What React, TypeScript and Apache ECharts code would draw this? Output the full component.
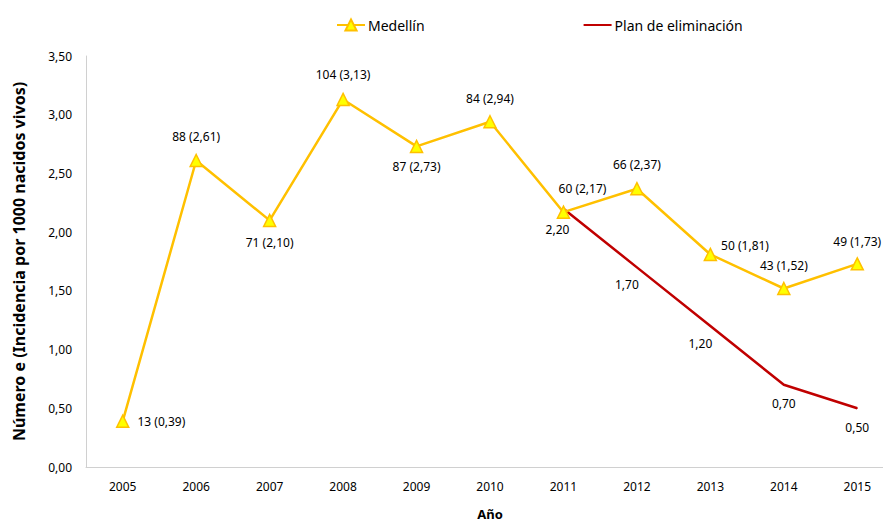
import React, { useEffect, useRef } from "react";
import * as echarts from "echarts";

const years = ["2005", "2006", "2007", "2008", "2009", "2010", "2011", "2012", "2013", "2014", "2015"];
const cases = [13, 88, 71, 104, 87, 84, 60, 66, 50, 43, 49];
const incidence = [0.39, 2.61, 2.10, 3.13, 2.73, 2.94, 2.17, 2.37, 1.81, 1.52, 1.73];
const plan = [null, null, null, null, null, null, 2.20, 1.70, 1.20, 0.70, 0.50];

const comma = (v: number) => v.toFixed(2).replace(".", ",");
const FONT = "Noto Sans";

const medLabel: any[] = [
  { position: "right", distance: 8 },
  { position: "top", distance: 11 },
  { position: "bottom", distance: 9 },
  { position: "top", distance: 12 },
  { position: "bottom", distance: 7 },
  { position: "top", distance: 11 },
  { position: "top", distance: 11, offset: [19, 0] },
  { position: "top", distance: 11 },
  { position: "right", distance: 4, offset: [0, -9] },
  { position: "top", distance: 10 },
  { position: "top", distance: 10 },
];
const planLabel: any[] = [
  null, null, null, null, null, null,
  { position: "bottom", distance: 14, offset: [-6, 0] },
  { position: "bottom", distance: 11, offset: [-10, 0] },
  { position: "bottom", distance: 11, offset: [-10, 0] },
  { position: "bottom", distance: 12 },
  { position: "bottom", distance: 13 },
];

export default function App() {
  const ref = useRef<HTMLDivElement>(null);
  useEffect(() => {
    document.body.style.margin = "0";
    const chart = echarts.init(ref.current!, null, { renderer: "svg" });
    const medData = incidence.map((v, i) => ({ value: v, label: medLabel[i] }));
    const planData = plan.map((v, i) => (v === null ? null : { value: v, label: planLabel[i] }));
    chart.setOption({
      animation: false,
      textStyle: { fontFamily: FONT },
      legend: {
        top: 13,
        left: 331,
        itemGap: 158,
        itemWidth: 28,
        itemHeight: 14,
        textStyle: { fontFamily: FONT, fontSize: 14, color: "#000", padding: [0, 0, 0, -2] },
        data: [
          { name: "Medellín" },
          { name: "Plan de eliminación", itemStyle: { opacity: 0 } },
        ],
      },
      grid: { left: 86, width: 808, top: 56, bottom: 55, containLabel: false, outerBoundsMode: "none" },
      xAxis: {
        type: "category",
        data: years,
        boundaryGap: true,
        name: "Año",
        nameLocation: "middle",
        nameGap: 40,
        nameTextStyle: { fontFamily: FONT, fontWeight: "bold", fontSize: 13, color: "#000" },
        axisLine: { lineStyle: { color: "#D0D0D0" } },
        axisTick: { show: false },
        axisLabel: { fontFamily: FONT, fontSize: 12, color: "#000", margin: 13 },
      },
      yAxis: {
        type: "value",
        min: 0,
        max: 3.5,
        interval: 0.5,
        name: "Número e (Incidencia por 1000 nacidos vivos)",
        nameLocation: "middle",
        nameGap: 59,
        nameTextStyle: { fontFamily: FONT, fontWeight: "bold", fontSize: 16, color: "#000" },
        axisLine: { show: true, lineStyle: { color: "#D0D0D0" } },
        axisTick: { show: false },
        splitLine: { show: false },
        axisLabel: { fontFamily: FONT, fontSize: 12, color: "#000", margin: 14, formatter: (v: number) => comma(v) },
      },
      series: [
        {
          name: "Medellín",
          type: "line",
          data: medData,
          symbol: "triangle",
          symbolSize: 12,
          lineStyle: { color: "#FFC000", width: 2.5 },
          itemStyle: { color: "#FFFF00", borderColor: "#FFC000", borderWidth: 1.5 },
          label: {
            show: true,
            fontFamily: FONT,
            fontSize: 12,
            color: "#000",
            formatter: (p: any) => `${cases[p.dataIndex]} (${comma(incidence[p.dataIndex])})`,
          },
          z: 3,
        },
        {
          name: "Plan de eliminación",
          type: "line",
          data: planData,
          symbol: "circle",
          symbolSize: 1,
          lineStyle: { color: "#C00000", width: 2.5 },
          itemStyle: { color: "#C00000" },
          label: {
            show: true,
            fontFamily: FONT,
            fontSize: 12,
            color: "#000",
            formatter: (p: any) => comma(p.value),
          },
          z: 2,
        },
      ],
    });
    return () => chart.dispose();
  }, []);
  return <div ref={ref} style={{ width: 883, height: 522 }} />;
}
